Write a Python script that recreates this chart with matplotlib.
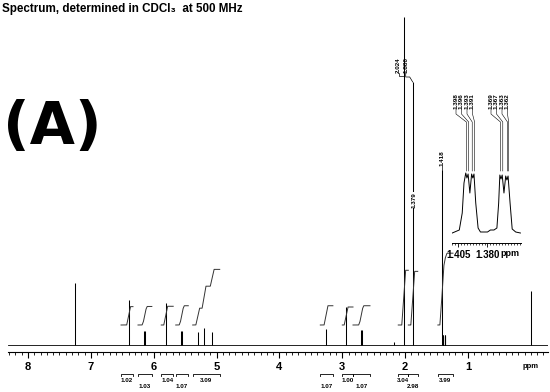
import numpy as np
import matplotlib
matplotlib.use("Agg")
import matplotlib.pyplot as plt
from matplotlib.ticker import MultipleLocator, FixedLocator

# ---------------- data ----------------
peak_ppm = [7.26, 6.40, 6.155, 6.135, 5.81, 5.565, 5.545, 5.30, 5.20, 5.07,
            3.26, 2.94, 2.71, 2.69, 2.18, 2.024, 1.880, 1.418,
            1.398, 1.396, 1.393, 1.391, 1.369, 1.367, 1.363, 1.362, 0.00]
peak_height = [62, 45, 14, 14, 42, 14, 14, 13, 17, 13,
               16, 38, 15, 15, 3, 328, 263, 175,
               9, 10, 10, 9, 9, 10, 10, 9, 54]

main_labels = ["2.024", "1.880", "1.379", "1.418"]

int_start = [6.52, 6.25, 5.88, 5.65, 5.38, 3.35, 3.00, 2.83, 2.11, 1.95, 1.48]
int_end = [6.33, 6.03, 5.69, 5.45, 4.95, 3.15, 2.83, 2.56, 1.95, 1.80, 1.24]
int_values = [1.02, 1.03, 1.04, 1.07, 3.09, 1.07, 1.00, 1.07, 3.04, 2.98, 3.99]
int_labels = ["1.02", "1.03", "1.04", "1.07", "3.09", "1.07", "1.00", "1.07", "3.04", "2.98", "3.99"]
int_rows = [0, 1, 0, 1, 0, 1, 0, 1, 0, 1, 0]

main_ticks = [8, 7, 6, 5, 4, 3, 2, 1]
main_ticklabels = ["8", "7", "6", "5", "4", "3", "2", "1"]

inset_ppm = [1.4100, 1.4040, 1.4015, 1.4000, 1.3985, 1.3975, 1.3965, 1.3950, 1.3935,
             1.3925, 1.3915, 1.3900, 1.3880, 1.3860, 1.3800, 1.3775, 1.3745, 1.3720,
             1.3705, 1.3695, 1.3685, 1.3675, 1.3660, 1.3645, 1.3635, 1.3625, 1.3608,
             1.3590, 1.3560, 1.3520]
inset_int = [0, 3, 20, 50, 60, 55, 59, 40, 59,
             55, 59, 30, 5, 1, 1, 3, 3, 5,
             30, 58, 54, 58, 40, 57, 53, 57, 30,
             4, 1, 0]
inset_peaks = [1.398, 1.396, 1.393, 1.391, 1.369, 1.367, 1.363, 1.362]
inset_labels = ["1.398", "1.396", "1.393", "1.391", "1.369", "1.367", "1.363", "1.362"]
inset_ticks = [1.405, 1.380]
inset_ticklabels = ["1.405", "1.380"]

# ---------------- figure ----------------
W, H = 550, 392
fig = plt.figure(figsize=(5.5, 3.92), dpi=100)


def rect(x0, y0, x1, y1):
    return [x0 / W, 1 - y1 / H, (x1 - x0) / W, (y1 - y0) / H]


ax = fig.add_axes(rect(8, 10, 548, 352))
ax.set_xlim(8.318, -0.272)
ax.set_ylim(-7, 335)
for s in ["top", "left", "right"]:
    ax.spines[s].set_visible(False)
ax.spines["bottom"].set_linewidth(0.8)
ax.set_yticks([])
ax.xaxis.set_major_locator(FixedLocator(main_ticks))
ax.set_xticklabels(main_ticklabels)
ax.xaxis.set_minor_locator(MultipleLocator(0.1))
ax.tick_params(axis="x", which="major", length=4, width=0.8, pad=3,
               labelsize=8)
ax.tick_params(axis="x", which="minor", length=2, width=0.6)
for lab in ax.get_xticklabels():
    lab.set_fontweight("bold")
    lab.set_family("Liberation Sans")

# baseline + peaks
ax.plot([8.318, -0.272], [0, 0], color="black", lw=0.6)
ax.vlines(peak_ppm, 0, peak_height, color="black", lw=0.75)

# integral curves
base, per_h = 20, 18
pk = np.array(peak_ppm)
ph = np.array(peak_height, dtype=float)
for s, e, v in zip(int_start, int_end, int_values):
    m = (pk <= s) & (pk >= e)
    w = ph[m] / ph[m].sum()
    grid = np.linspace(s, e, 300)
    y = np.zeros_like(grid)
    for p, wi in zip(pk[m], w):
        y += wi * np.clip((p + 0.03 - grid) / 0.06, 0, 1)
    ax.plot(grid, base + per_h * v * y, color="#333333", lw=0.7)

# overlay in pixel coords (y down)
ov = fig.add_axes([0, 0, 1, 1])
ov.set_xlim(0, W)
ov.set_ylim(H, 0)
ov.axis("off")
ov.patch.set_visible(False)


def to_px(axes, x, y):
    d = axes.transData.transform((x, y))
    return d[0], H - d[1]


# integral brackets and values
for s, e, lab, r in zip(int_start, int_end, int_labels, int_rows):
    x0, _ = to_px(ax, s, 0)
    x1, _ = to_px(ax, e, 0)
    yb = 374
    ov.plot([x0, x0, x1, x1], [yb + 1.5, yb, yb, yb + 1.5], color="black", lw=0.6)
    ov.text((x0 + x1) / 2, 381 + 6 * r, lab, ha="center", va="center",
            fontsize=4.5, fontweight="bold", family="Liberation Sans")

# ppm label at 0
xp, _ = to_px(ax, 0.0, 0)
ov.text(xp, 366, "ppm", ha="center", va="center", fontsize=5.5,
        fontweight="bold", family="Liberation Sans")

# title and big label
ov.text(2, 9, "Spectrum, determined in CDCl\u2083  at 500 MHz", ha="left", va="center",
        fontsize=8.4, fontweight="bold", family=["Liberation Sans", "DejaVu Sans"])
ov.text(52, 127, "(A)", ha="center", va="center", fontsize=42,
        fontweight="bold", family="DejaVu Sans")

# main peak labels
lab_kw = dict(rotation=90, ha="center", va="center", fontsize=4.5,
              fontweight="bold", family="Liberation Sans")
x2024, y2024 = to_px(ax, 2.024, peak_height[15])
ov.text(x2024 - 5, 65, main_labels[0], **lab_kw)
ov.plot([x2024 - 5, x2024 - 5, x2024], [73, 76, 76], color="black", lw=0.5)
x188, y188 = to_px(ax, 1.880, peak_height[16])
ov.text(x188 - 7, 65, main_labels[1], **lab_kw)
ov.plot([x188 - 7, x188 - 7, x188 - 3, x188], [73, 77, 77, y188], color="black", lw=0.5)
ov.text(x188 + 1.5, 200, main_labels[2],
        bbox=dict(facecolor="white", edgecolor="none", pad=0.3), **lab_kw)
x1418, y1418 = to_px(ax, 1.418, peak_height[17])
ov.text(x1418, 158, main_labels[3], **lab_kw)
ov.plot([x1418, x1418], [166, y1418], color="black", lw=0.5)

# inset
ai = fig.add_axes(rect(452, 165, 521, 243))
ai.set_xlim(1.4102, 1.3515)
ai.set_ylim(-10, 68)
for s in ["top", "left", "right"]:
    ai.spines[s].set_visible(False)
ai.spines["bottom"].set_linewidth(0.7)
ai.set_yticks([])
ai.patch.set_visible(False)
ai.xaxis.set_major_locator(FixedLocator(inset_ticks))
ai.set_xticklabels(inset_ticklabels)
ai.xaxis.set_minor_locator(MultipleLocator(0.0025))
ai.tick_params(axis="x", which="major", length=3, width=0.6, pad=2, labelsize=7)
ai.tick_params(axis="x", which="minor", length=1.5, width=0.5)
for lab in ai.get_xticklabels():
    lab.set_fontweight("bold")
    lab.set_family("Liberation Sans")
ai.plot(inset_ppm, inset_int, color="black", lw=0.7)
ov.text(510, 254, "ppm", ha="center", va="center", fontsize=6.5,
        fontweight="bold", family="Liberation Sans")

# inset peak labels with leaders
label_x = [456, 461.5, 467, 472.5, 491, 496.5, 502, 507.5]
for lx, p, lab in zip(label_x, inset_peaks, inset_labels):
    px_, py_ = to_px(ai, p, 62)
    ov.text(lx, 101, lab, **lab_kw)
    ov.plot([lx, lx, px_, px_], [109, 114, 122, py_], color="black", lw=0.4)

fig.savefig("out.png", dpi=100)
